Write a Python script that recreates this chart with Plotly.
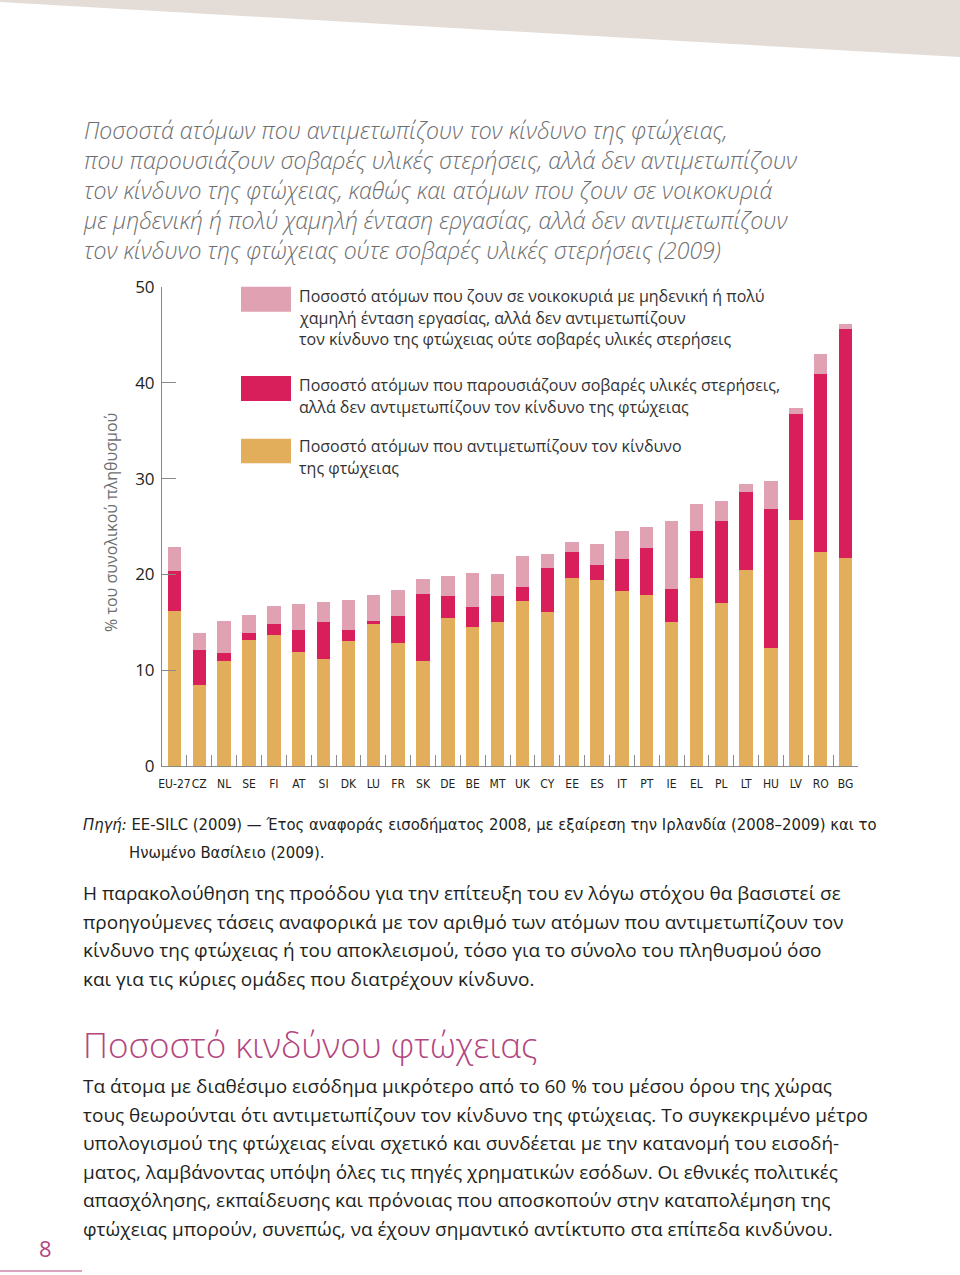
import plotly.graph_objects as go

countries = ["EU-27", "CZ", "NL", "SE", "FI", "AT", "SI", "DK", "LU", "FR", "SK", "DE", "BE", "MT",
             "UK", "CY", "EE", "ES", "IT", "PT", "IE", "EL", "PL", "LT", "HU", "LV", "RO", "BG"]
poverty = [16.2, 8.5, 11.0, 13.2, 13.7, 11.9, 11.2, 13.0, 14.8, 12.8, 11.0, 15.4, 14.5, 15.0,
           17.2, 16.1, 19.6, 19.4, 18.3, 17.8, 15.0, 19.6, 17.0, 20.5, 12.3, 25.7, 22.3, 21.7]
deprivation = [4.2, 3.6, 0.8, 0.7, 1.1, 2.3, 3.8, 1.2, 0.3, 2.9, 7.0, 2.3, 2.1, 2.7,
               1.5, 4.6, 2.7, 1.6, 3.3, 5.0, 3.5, 4.9, 8.6, 8.1, 14.5, 11.0, 18.6, 23.9]
low_work = [2.5, 1.8, 3.3, 1.9, 1.9, 2.7, 2.1, 3.1, 2.7, 2.7, 1.5, 2.1, 3.5, 2.3,
            3.2, 1.4, 1.1, 2.2, 2.9, 2.1, 7.1, 2.9, 2.1, 0.8, 2.9, 0.7, 2.1, 0.5]
y_ticks = [0, 10, 20, 30, 40, 50]

C_POV = "#E3AE5B"
C_DEP = "#D81E5B"
C_LOW = "#E0A1B3"
GREY = "#6d6e71"
TXT = "#231f20"
PURPLE = "#B3467F"
COND = "DejaVu Sans Condensed, Roboto, sans-serif"

# page geometry (pixels)
W, H = 960, 1275
L, R, T, B = 162, 102, 287, 509
PW, PH = W - L - R, H - T - B


def px(x):
    return (x - L) / PW


def py(y):
    return (H - B - y) / PH


fig = go.Figure()
fig.add_trace(go.Bar(x=countries, y=poverty, marker=dict(color=C_POV, line=dict(width=0)), name="pov"))
fig.add_trace(go.Bar(x=countries, y=deprivation, marker=dict(color=C_DEP, line=dict(width=0)), name="dep"))
fig.add_trace(go.Bar(x=countries, y=low_work, marker=dict(color=C_LOW, line=dict(width=0)), name="low"))

shapes = []
annotations = []

# top grey band
shapes.append(dict(type="path", xref="paper", yref="paper",
                   path=f"M {px(0)},{py(0)} L {px(960)},{py(0)} L {px(960)},{py(57)} L {px(0)},{py(2)} Z",
                   fillcolor="#E3DCD7", line=dict(width=0), layer="below"))


def text(x, y, s, size, color=TXT, family="Open Sans", xanchor="left", weight=None, style=None, angle=0):
    f = dict(size=size, color=color, family=family)
    if weight:
        f["weight"] = weight
    if style:
        f["style"] = style
    annotations.append(dict(x=px(x), y=py(y), xref="paper", yref="paper", text=s, showarrow=False,
                            xanchor=xanchor, yanchor="middle", font=f, textangle=angle, align="left"))


title_lines = [
    "Ποσοστά ατόμων που αντιμετωπίζουν τον κίνδυνο της φτώχειας,",
    "που παρουσιάζουν σοβαρές υλικές στερήσεις, αλλά δεν αντιμετωπίζουν",
    "τον κίνδυνο της φτώχειας, καθώς και ατόμων που ζουν σε νοικοκυριά",
    "με μηδενική ή πολύ χαμηλή ένταση εργασίας, αλλά δεν αντιμετωπίζουν",
    "τον κίνδυνο της φτώχειας ούτε σοβαρές υλικές στερήσεις (2009)",
]
text(81, 190, "<br>".join(title_lines), 23, color=GREY, weight=300, style="italic")

# legend
legend_items = [
    (C_LOW, 286.7, 311.7, ["Ποσοστό ατόμων που ζουν σε νοικοκυριά με μηδενική ή πολύ",
                           "χαμηλή ένταση εργασίας, αλλά δεν αντιμετωπίζουν",
                           "τον κίνδυνο της φτώχειας ούτε σοβαρές υλικές στερήσεις"], 296),
    (C_DEP, 376, 401, ["Ποσοστό ατόμων που παρουσιάζουν σοβαρές υλικές στερήσεις,",
                       "αλλά δεν αντιμετωπίζουν τον κίνδυνο της φτώχειας"], 385),
    (C_POV, 438.7, 463.3, ["Ποσοστό ατόμων που αντιμετωπίζουν τον κίνδυνο",
                           "της φτώχειας"], 446),
]
for col, y0, y1, lines, ly in legend_items:
    shapes.append(dict(type="rect", xref="paper", yref="paper", x0=px(241), x1=px(291),
                       y0=py(y1), y1=py(y0), fillcolor=col, line=dict(width=0)))
    for j, s in enumerate(lines):
        text(297, ly + j * 21.5, s, 16, color="#333333")

# y axis title
text(111, 523, "% του συνολικού πληθυσμού", 16, color=GREY, xanchor="center", angle=-90)

# source
text(81, 824, "<i>Πηγή:</i> EE-SILC (2009) — Έτος αναφοράς εισοδήματος 2008, με εξαίρεση την Ιρλανδία (2008–2009) και το",
     16.5, family=COND)
text(127, 852, "Ηνωμένο Βασίλειο (2009).", 16.5, family=COND)

body1 = [
    "Η παρακολούθηση της προόδου για την επίτευξη του εν λόγω στόχου θα βασιστεί σε",
    "προηγούμενες τάσεις αναφορικά με τον αριθμό των ατόμων που αντιμετωπίζουν τον",
    "κίνδυνο της φτώχειας ή του αποκλεισμού, τόσο για το σύνολο του πληθυσμού όσο",
    "και για τις κύριες ομάδες που διατρέχουν κίνδυνο.",
]
for i, s in enumerate(body1):
    text(81, 893 + i * 28.7, s, 19)

text(81, 1044, "Ποσοστό κινδύνου φτώχειας", 35, color=PURPLE, weight=300)

body2 = [
    "Τα άτομα με διαθέσιμο εισόδημα μικρότερο από το 60 % του μέσου όρου της χώρας",
    "τους θεωρούνται ότι αντιμετωπίζουν τον κίνδυνο της φτώχειας. Το συγκεκριμένο μέτρο",
    "υπολογισμού της φτώχειας είναι σχετικό και συνδέεται με την κατανομή του εισοδή-",
    "ματος, λαμβάνοντας υπόψη όλες τις πηγές χρηματικών εσόδων. Οι εθνικές πολιτικές",
    "απασχόλησης, εκπαίδευσης και πρόνοιας που αποσκοπούν στην καταπολέμηση της",
    "φτώχειας μπορούν, συνεπώς, να έχουν σημαντικό αντίκτυπο στα επίπεδα κινδύνου.",
]
for i, s in enumerate(body2):
    text(81, 1086 + i * 28.5, s, 19)

# page number
text(45, 1248, "8", 22, color=PURPLE, xanchor="center")
shapes.append(dict(type="line", xref="paper", yref="paper", x0=px(0), x1=px(82), y0=py(1271), y1=py(1271),
                   line=dict(color=PURPLE, width=1)))

fig.update_layout(
    width=W, height=H,
    margin=dict(l=L, r=R, t=T, b=B, pad=0),
    paper_bgcolor="white", plot_bgcolor="white",
    barmode="stack", bargap=0.46, showlegend=False,
    shapes=shapes, annotations=annotations,
    xaxis=dict(type="category", range=[-0.5, len(countries) - 0.5], showline=True, linecolor="#8a8a8a",
               linewidth=1, ticks="inside", tickson="boundaries", ticklen=11, tickcolor="#8a8a8a",
               showgrid=False, zeroline=False, tickangle=0, ticklabelstandoff=7,
               tickfont=dict(family=COND, size=12, color=TXT)),
    yaxis=dict(range=[0, 50], tickvals=y_ticks, showline=True, linecolor="#8a8a8a", linewidth=1,
               ticks="inside", ticklen=14, tickcolor="#8a8a8a", showgrid=False, zeroline=False,
               ticklabelstandoff=3,
               tickfont=dict(family="Open Sans", size=17, color=TXT)),
)

fig.write_html("out.html", config={"displayModeBar": False},
               post_script="document.body.style.margin='0';document.body.style.overflow='hidden';")
